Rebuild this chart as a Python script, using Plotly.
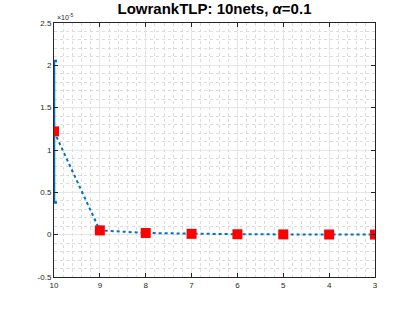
import plotly.graph_objects as go

nets = [10, 9, 8, 7, 6, 5, 4, 3]
mean_err = [1.22e-5, 0.05e-5, 0.02e-5, 0.01e-5, 0.005e-5, 0.003e-5, 0.002e-5, 0.001e-5]
err_up = [0.83e-5, 0.04e-5, 0.01e-5, 0.005e-5, 0.003e-5, 0.002e-5, 0.001e-5, 0.001e-5]
err_down = [0.84e-5, 0.04e-5, 0.01e-5, 0.005e-5, 0.003e-5, 0.002e-5, 0.001e-5, 0.001e-5]
ytick_vals = [-0.5e-5, 0, 0.5e-5, 1e-5, 1.5e-5, 2e-5, 2.5e-5]
ytick_text = ["-0.5", "0", "0.5", "1", "1.5", "2", "2.5"]
xtick_vals = [10, 9, 8, 7, 6, 5, 4, 3]

blue = "#0072BD"
fig = go.Figure()
fig.add_trace(go.Scatter(
    x=nets, y=mean_err, mode="lines+markers",
    line=dict(color=blue, width=2, dash="dot"),
    marker=dict(symbol="square", size=10, color="red", line=dict(color="red", width=0)),
    error_y=dict(type="data", array=err_up, arrayminus=err_down, symmetric=False,
                 color=blue, thickness=2.5, width=3),
    showlegend=False,
))

axis_common = dict(
    showline=True, linecolor="#262626", linewidth=1, mirror="ticks",
    ticks="inside", ticklen=4, tickcolor="#262626",
    tickfont=dict(family="Liberation Sans, Arial, sans-serif", size=8, color="#262626"),
    showgrid=True, gridcolor="#e6e6e6", gridwidth=1, zeroline=False,
)
fig.update_xaxes(range=[10, 3], autorange=False, tickvals=xtick_vals,
                 minor=dict(dtick=0.2, showgrid=True, gridcolor="#dcdcdc", griddash="dot", ticks=""),
                 **axis_common)
fig.update_yaxes(range=[-0.5e-5, 2.5e-5], autorange=False, tickvals=ytick_vals, ticktext=ytick_text,
                 minor=dict(dtick=0.1e-5, showgrid=True, gridcolor="#dcdcdc", griddash="dot", ticks=""),
                 **axis_common)

fig.add_annotation(x=0, y=1, xref="paper", yref="paper", xanchor="left", yanchor="bottom",
                   text="×10<sup>-5</sup>", showarrow=False, xshift=1,
                   font=dict(family="Liberation Sans, Arial, sans-serif", size=7, color="#262626"))

fig.update_layout(
    width=415, height=312,
    margin=dict(l=54, r=40, t=23, b=35),
    paper_bgcolor="white", plot_bgcolor="white",
    title=dict(text="<b>LowrankTLP: 10nets, <i>α</i>=0.1</b>", x=0.5, xanchor="center",
               xref="paper", y=1.0, yanchor="top", pad=dict(t=3),
               font=dict(family="Liberation Sans, Arial, sans-serif", size=15, color="black")),
)
fig.write_html("out.html", config={"displayModeBar": False},
               post_script="document.body.style.margin='0';document.body.style.overflow='hidden';")
